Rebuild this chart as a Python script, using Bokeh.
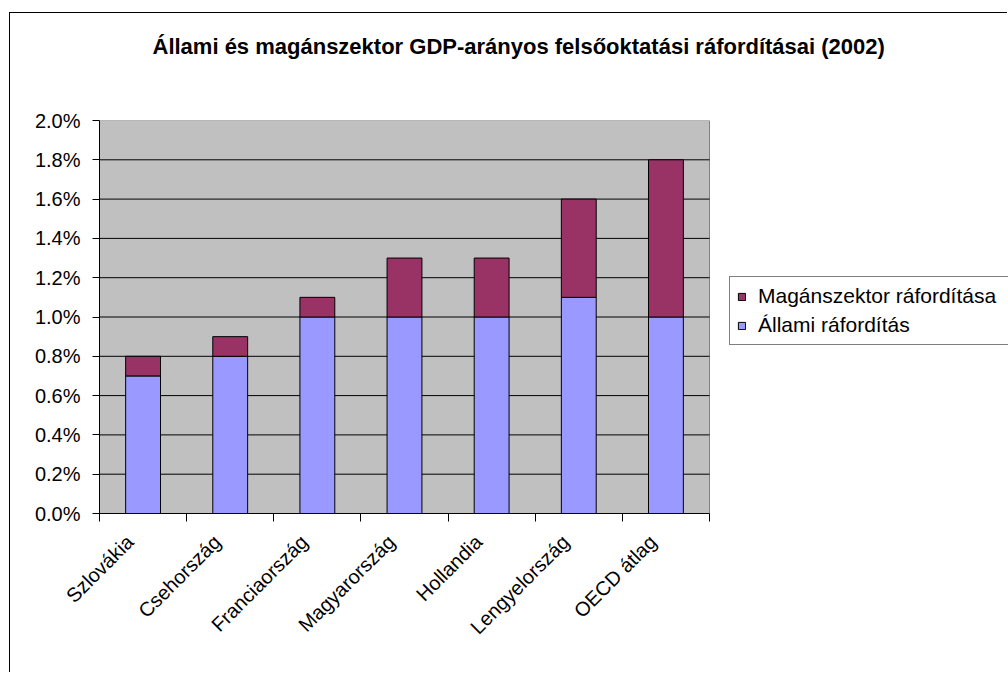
import math
from bokeh.plotting import figure
from bokeh.models import (ColumnDataSource, Range1d, LinearAxis,
                          FixedTicker, PrintfTickFormatter, Legend, LegendItem)
from bokeh.embed import file_html
from bokeh.resources import INLINE

categories = ["Szlovákia", "Csehország", "Franciaország", "Magyarország",
              "Hollandia", "Lengyelország", "OECD átlag"]
allami = [0.7, 0.8, 1.0, 1.0, 1.0, 1.1, 1.0]
magan = [0.1, 0.1, 0.1, 0.3, 0.3, 0.5, 0.8]
y_ticks = [0.0, 0.2, 0.4, 0.6, 0.8, 1.0, 1.2, 1.4, 1.6, 1.8, 2.0]
series_names = ["Állami ráfordítás", "Magánszektor ráfordítása"]
series_colors = ["#9999FF", "#993366"]
title_text = "Állami és magánszektor GDP-arányos felsőoktatási ráfordításai (2002)"

FONT = "Liberation Sans"
n = len(categories)
centers = [i + 0.5 for i in range(n)]
label_pos = [c - 0.15 for c in centers]

# layout constants (pixels)
FIG_W, FIG_H = 998, 660
BORDER_L, BORDER_T, BORDER_B = 89, 107, 160
PLOT_W = 610                      # width of the grey plot area
FRAME_W = FIG_W - BORDER_L        # frame reaches the right edge (legend lives there)
x_end = n * FRAME_W / PLOT_W

src = ColumnDataSource(dict(x=centers, cat=categories, allami=allami, magan=magan))

p = figure(width=FIG_W, height=FIG_H,
           x_range=Range1d(0, x_end), y_range=Range1d(y_ticks[0], y_ticks[-1]),
           x_axis_location=None,
           output_backend="svg", toolbar_location=None,
           min_border_left=BORDER_L, min_border_right=0,
           min_border_top=BORDER_T, min_border_bottom=BORDER_B)
p.margin = (12, 0, 0, 9)
p.styles = {"border-left": "1px solid black", "border-top": "1px solid black"}
p.background_fill_color = "white"
p.border_fill_color = "white"
p.outline_line_color = None
p.xgrid.visible = False
p.ygrid.visible = False


def spacer_axis(size, dim_ticks):
    return LinearAxis(ticker=FixedTicker(ticks=dim_ticks),
                      major_label_overrides={t: "" for t in dim_ticks},
                      major_label_text_font_size="0px",
                      major_label_standoff=0,
                      major_tick_out=size, major_tick_in=0,
                      major_tick_line_color=None, minor_tick_line_color=None,
                      axis_line_color=None)


# spacer between frame and title
p.add_layout(spacer_axis(55, [0.5]), "above")

# title
p.title.text = title_text
p.title.align = "left"
p.title.offset = 53
p.title.vertical_align = "top"
p.title.standoff = 10
p.title.text_font = FONT
p.title.text_font_style = "bold"
p.title.text_font_size = "22px"
p.title.text_color = "black"

# grey plot area and horizontal grid lines (in data space)
p.quad(left=[0], right=[n], bottom=[y_ticks[0]], top=[y_ticks[-1]],
       fill_color="#C0C0C0", line_color="#808080", line_width=1)
grid_vals = y_ticks[1:-1]
p.segment(x0=[0] * len(grid_vals), x1=[n] * len(grid_vals),
          y0=grid_vals, y1=grid_vals, line_color="black", line_width=1)

# y axis
ya = p.yaxis[0]
ya.ticker = FixedTicker(ticks=y_ticks)
ya.formatter = PrintfTickFormatter(format="%.1f%%")
ya.major_tick_out = 7
ya.major_tick_in = 0
ya.minor_tick_line_color = None
ya.axis_line_color = "black"
ya.major_tick_line_color = "black"
ya.major_label_text_font = FONT
ya.major_label_text_font_size = "20px"
ya.major_label_text_color = "black"
ya.major_label_standoff = 12

# x axes: ticks at category boundaries + labels at centers
tick_axis = LinearAxis(ticker=FixedTicker(ticks=list(range(n + 1))),
                       bounds=(0, n),
                       major_label_overrides={i: "" for i in range(n + 1)},
                       major_label_text_font_size="0px",
                       major_label_standoff=0,
                       major_tick_out=8, major_tick_in=0,
                       minor_tick_line_color=None,
                       axis_line_color="black", major_tick_line_color="black")
lab_axis = LinearAxis(ticker=FixedTicker(ticks=label_pos),
                      major_label_overrides={c: lab for c, lab in zip(label_pos, categories)},
                      axis_line_color=None, major_tick_line_color=None,
                      minor_tick_line_color=None,
                      major_tick_out=0, major_tick_in=0,
                      major_label_orientation=math.pi / 4,
                      major_label_text_font=FONT,
                      major_label_text_font_size="20px",
                      major_label_text_color="black",
                      major_label_standoff=17)
p.add_layout(tick_axis, "below")
p.add_layout(lab_axis, "below")

# stacked bars
rs = p.vbar_stack(["allami", "magan"], x="x", width=0.4, color=series_colors,
                  line_color="black", line_width=1, source=src)

legend = Legend(items=[LegendItem(label=series_names[1], renderers=[rs[1]]),
                       LegendItem(label=series_names[0], renderers=[rs[0]])],
                location=(630, 168), padding=7, margin=0, spacing=5,
                glyph_width=9, glyph_height=9, label_standoff=12,
                label_width=280,
                label_text_font=FONT, label_text_font_size="21px",
                label_text_color="black",
                border_line_color="black", border_line_width=1,
                background_fill_color="white")
p.add_layout(legend)

open("out.html", "w").write(file_html(p, INLINE))
